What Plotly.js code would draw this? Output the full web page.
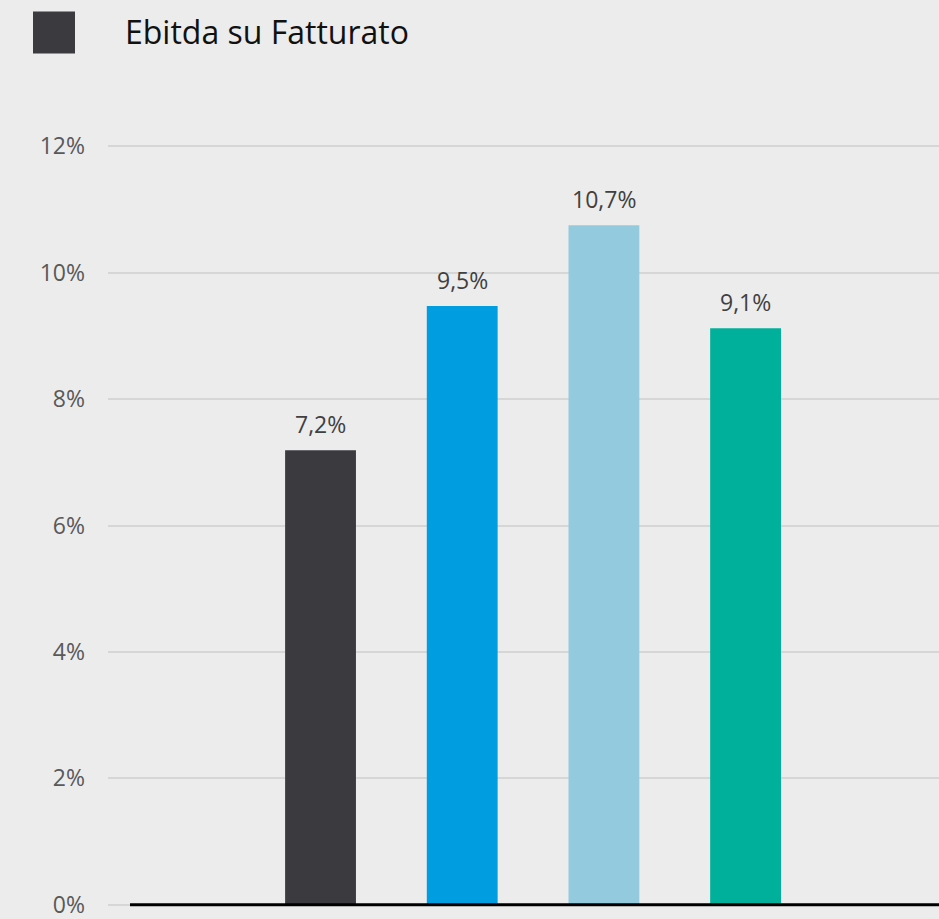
<!DOCTYPE html>
<html>
<head>
<meta charset="utf-8">
<script src="https://cdn.plot.ly/plotly-3.0.1.min.js"></script>
<style>html,body{margin:0;padding:0;background:#ececec;}#chart{width:939px;height:919px;}</style>
</head>
<body>
<div id="chart"></div>
<script>
const categories = ["A", "B", "C", "D"];
const values = [7.19, 9.47, 10.75, 9.12];
const valueLabels = ["7,2%", "9,5%", "10,7%", "9,1%"];
const barColors = ["#3b3a3f", "#009ee0", "#94cadd", "#00b09b"];
const seriesName = "Ebitda su Fatturato";
const yTickVals = [0, 2, 4, 6, 8, 10, 12];
const yTickText = ["0%", "2%", "4%", "6%", "8%", "10%", "12%"];

const W = 939, H = 919;
const yPad = 0.05;
const pxPerUnit = (905.3 - 145.7) / 12;
const mL = 108, mR = 0;
const mT = 145.7 - yPad * pxPerUnit, mB = H - 905.3 - yPad * pxPerUnit;
const pw = W - mL - mR, ph = H - mT - mB;
const px = x => (x - mL) / pw;
const py = y => (H - mB - y) / ph;

const trace = {
  type: "bar",
  x: categories,
  y: values,
  width: 0.5,
  marker: {color: barColors},
  name: seriesName,
  hoverinfo: "skip",
  showlegend: false
};

const labelAnns = categories.map((c, i) => ({
  x: c, y: values[i], xref: "x", yref: "y",
  text: valueLabels[i], showarrow: false,
  yanchor: "bottom", yshift: 8,
  font: {family: "Open Sans, sans-serif", size: 23, color: "#404040"}
}));

const layout = {
  width: W, height: H,
  margin: {l: mL, r: mR, t: mT, b: mB, pad: 0},
  paper_bgcolor: "#ececec",
  plot_bgcolor: "#ececec",
  showlegend: false,
  font: {family: "Open Sans, sans-serif"},
  xaxis: {
    type: "category",
    range: [-1.5, 4.365],
    showticklabels: false,
    showgrid: false,
    zeroline: false,
    showline: false,
    ticks: "",
    fixedrange: true
  },
  yaxis: {
    range: [-yPad, 12 + yPad],
    tickvals: yTickVals,
    ticktext: yTickText,
    showgrid: true,
    gridcolor: "#d6d6d6",
    gridwidth: 2,
    zeroline: false,
    showline: false,
    ticks: "",
    ticklabelstandoff: 22,
    ticklabeloverflow: "allow",
    tickfont: {family: "Open Sans, sans-serif", size: 23, color: "#595959"},
    fixedrange: true
  },
  shapes: [
    {type: "line", xref: "paper", yref: "y", x0: px(130), x1: 1, y0: 0, y1: 0,
     line: {color: "#000000", width: 3}},
    {type: "rect", xref: "paper", yref: "paper", x0: px(33), x1: px(75), y0: py(53), y1: py(11),
     fillcolor: barColors[0], line: {width: 0}}
  ],
  annotations: labelAnns.concat([
    {xref: "paper", yref: "paper", x: px(123), y: py(31), xanchor: "left", yanchor: "middle",
     text: seriesName, showarrow: false,
     font: {family: "Open Sans, sans-serif", size: 32, color: "#111111"}}
  ])
};

Plotly.newPlot("chart", [trace], layout, {displayModeBar: false, staticPlot: true});
</script>
</body>
</html>
